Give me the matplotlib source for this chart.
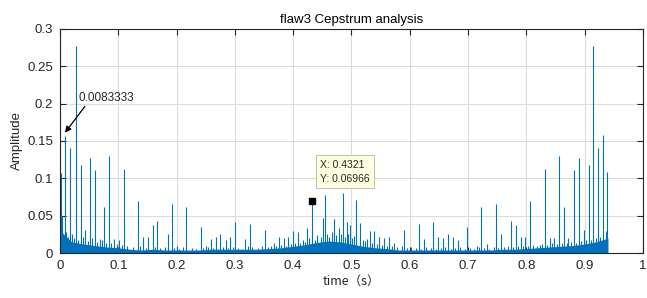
import matplotlib
matplotlib.use('Agg')
import matplotlib.pyplot as plt

plt.rcParams['font.family'] = ['Liberation Sans', 'DejaVu Sans']

# prominent cepstrum peaks (quefrency s, amplitude)
peak_t = [0.001, 0.003, 0.0083, 0.018, 0.027, 0.0355, 0.043, 0.0515, 0.060, 0.0686,
          0.0755, 0.0846, 0.0926, 0.101, 0.110, 0.134, 0.143, 0.151, 0.159, 0.167,
          0.185, 0.1927, 0.200, 0.217, 0.242, 0.250, 0.259, 0.267, 0.275, 0.284,
          0.292, 0.301, 0.318, 0.326, 0.351, 0.367, 0.375, 0.384, 0.392, 0.400,
          0.408, 0.424, 0.4321, 0.4505, 0.4546, 0.470, 0.478, 0.486, 0.4917, 0.497,
          0.508, 0.514, 0.531, 0.539, 0.548, 0.556, 0.565, 0.573, 0.5906, 0.6158,
          0.624, 0.640, 0.649, 0.657, 0.665, 0.674, 0.682, 0.699, 0.715, 0.723,
          0.733, 0.748, 0.757, 0.773, 0.782, 0.790, 0.798, 0.8067, 0.823, 0.832,
          0.840, 0.848, 0.8565, 0.865, 0.872, 0.8817, 0.890, 0.899, 0.9067, 0.9148,
          0.9234, 0.932, 0.939]
peak_v = [0.107, 0.050, 0.157, 0.141, 0.277, 0.118, 0.031, 0.127, 0.111, 0.019,
          0.062, 0.130, 0.019, 0.018, 0.112, 0.070, 0.022, 0.022, 0.037, 0.043,
          0.026, 0.066, 0.010, 0.062, 0.035, 0.010, 0.019, 0.022, 0.026, 0.018,
          0.022, 0.042, 0.019, 0.039, 0.031, 0.013, 0.021, 0.020, 0.021, 0.029,
          0.028, 0.034, 0.06966, 0.047, 0.078, 0.045, 0.034, 0.080, 0.042, 0.037,
          0.071, 0.040, 0.030, 0.029, 0.022, 0.020, 0.021, 0.013, 0.031, 0.039,
          0.019, 0.042, 0.022, 0.020, 0.025, 0.022, 0.018, 0.035, 0.009, 0.062,
          0.012, 0.066, 0.025, 0.043, 0.037, 0.021, 0.022, 0.070, 0.011, 0.112,
          0.020, 0.020, 0.130, 0.062, 0.020, 0.111, 0.127, 0.031, 0.118, 0.277,
          0.140, 0.158, 0.109]

# small "grass" between the peaks
grass_t = [0.004, 0.011, 0.014, 0.021, 0.024, 0.031, 0.039, 0.048, 0.055, 0.064,
           0.072, 0.079, 0.088, 0.097, 0.106, 0.115, 0.125, 0.138, 0.147, 0.163,
           0.172, 0.180, 0.196, 0.205, 0.211, 0.226, 0.233, 0.246, 0.254, 0.263,
           0.271, 0.279, 0.288, 0.296, 0.305, 0.313, 0.322, 0.330, 0.339, 0.346,
           0.356, 0.362, 0.371, 0.379, 0.388, 0.396, 0.404, 0.412, 0.417, 0.421,
           0.428, 0.437, 0.441, 0.447, 0.458, 0.462, 0.466, 0.474, 0.482, 0.489,
           0.494, 0.501, 0.505, 0.519, 0.524, 0.527, 0.535, 0.544, 0.552, 0.561,
           0.569, 0.578, 0.586, 0.595, 0.603, 0.611, 0.620, 0.628, 0.636, 0.645,
           0.653, 0.661, 0.670, 0.678, 0.687, 0.695, 0.703, 0.711, 0.719, 0.728,
           0.736, 0.744, 0.752, 0.761, 0.769, 0.777, 0.786, 0.794, 0.803, 0.811,
           0.819, 0.827, 0.836, 0.844, 0.852, 0.861, 0.869, 0.877, 0.886, 0.894,
           0.903, 0.911, 0.919, 0.927, 0.936]
grass_v = [0.035, 0.028, 0.022, 0.025, 0.020, 0.018, 0.022, 0.016, 0.020, 0.015,
           0.017, 0.014, 0.013, 0.012, 0.011, 0.010, 0.008, 0.009, 0.007, 0.008,
           0.007, 0.008, 0.007, 0.006, 0.008, 0.007, 0.006, 0.007, 0.008, 0.007,
           0.006, 0.008, 0.007, 0.008, 0.007, 0.006, 0.009, 0.008, 0.007, 0.009,
           0.008, 0.010, 0.009, 0.011, 0.010, 0.012, 0.014, 0.013, 0.017, 0.015,
           0.020, 0.018, 0.024, 0.022, 0.026, 0.021, 0.028, 0.024, 0.026, 0.022,
           0.025, 0.020, 0.023, 0.018, 0.016, 0.019, 0.014, 0.012, 0.011, 0.010,
           0.009, 0.008, 0.009, 0.007, 0.008, 0.007, 0.006, 0.008, 0.007, 0.006,
           0.007, 0.008, 0.006, 0.007, 0.008, 0.006, 0.007, 0.006, 0.008, 0.007,
           0.006, 0.008, 0.007, 0.008, 0.009, 0.008, 0.009, 0.010, 0.009, 0.011,
           0.010, 0.012, 0.011, 0.013, 0.012, 0.014, 0.013, 0.015, 0.014, 0.016,
           0.018, 0.017, 0.020, 0.022, 0.030]

# dense noise floor envelope
floor_t = [0.00, 0.02, 0.04, 0.06, 0.08, 0.10, 0.12, 0.14, 0.16, 0.18, 0.20, 0.22,
           0.24, 0.26, 0.28, 0.30, 0.32, 0.34, 0.36, 0.38, 0.40, 0.42, 0.44, 0.46,
           0.48, 0.50, 0.52, 0.54, 0.56, 0.58, 0.60, 0.62, 0.64, 0.66, 0.68, 0.70,
           0.72, 0.74, 0.76, 0.78, 0.80, 0.82, 0.84, 0.86, 0.88, 0.90, 0.92, 0.94]
floor_v = [0.030, 0.015, 0.012, 0.010, 0.008, 0.007, 0.005, 0.004, 0.005, 0.004,
           0.004, 0.004, 0.004, 0.005, 0.005, 0.005, 0.005, 0.005, 0.006, 0.007,
           0.009, 0.011, 0.014, 0.016, 0.015, 0.012, 0.009, 0.007, 0.006, 0.004,
           0.004, 0.004, 0.004, 0.004, 0.004, 0.004, 0.004, 0.004, 0.005, 0.005,
           0.006, 0.007, 0.008, 0.009, 0.010, 0.012, 0.015, 0.020]

tip_x, tip_y = 0.4321, 0.06966
blue = '#0072BD'
dark = '#262626'

fig = plt.figure(figsize=(6.47, 2.98), dpi=100)
ax = fig.add_axes([0.0927, 0.151, 0.901, 0.752])

ax.fill_between(floor_t, 0, floor_v, color=blue, lw=0, zorder=2)
ax.vlines(grass_t, 0, grass_v, color=blue, lw=0.8, zorder=2)
ax.vlines(peak_t, 0, peak_v, color=blue, lw=0.8, zorder=2)

ax.set_xlim(0, 1)
ax.set_ylim(0, 0.3)
ax.set_xticks([0, 0.1, 0.2, 0.3, 0.4, 0.5, 0.6, 0.7, 0.8, 0.9, 1])
ax.set_xticklabels(['0', '0.1', '0.2', '0.3', '0.4', '0.5', '0.6', '0.7', '0.8', '0.9', '1'])
ax.set_yticks([0, 0.05, 0.1, 0.15, 0.2, 0.25, 0.3])
ax.set_yticklabels(['0', '0.05', '0.1', '0.15', '0.2', '0.25', '0.3'])
ax.grid(True, color='#dcdcdc', lw=0.8, zorder=0)
ax.set_axisbelow(True)
ax.tick_params(direction='in', top=True, right=True, length=4, width=0.8,
               colors=dark, labelsize=9.5, pad=5)
for s in ax.spines.values():
    s.set_color(dark)
    s.set_linewidth(0.8)

ax.set_title('flaw3 Cepstrum analysis', fontsize=9.5, color='#000000', pad=4)
ax.set_ylabel('Amplitude', fontsize=9.5, color=dark, labelpad=3)
ax.set_xlabel('time（s）', fontsize=9, color=dark, labelpad=2,
              family=['Noto Sans CJK SC', 'DejaVu Sans'])

# arrow annotation
ax.annotate('0.0083333', xy=(0.0086, 0.161), xytext=(0.032, 0.208),
            fontsize=8.5, color=dark, va='center', ha='left',
            arrowprops=dict(arrowstyle='-|>', color='#000000', lw=0.9,
                            shrinkA=0, shrinkB=0, mutation_scale=9,
                            relpos=(0.15, 0.0)),
            zorder=5)

# data tip
ax.plot([tip_x], [tip_y], 's', color='#000000', ms=5, zorder=6)
ax.text(0.446, 0.109, 'X: 0.4321\nY: 0.06966', fontsize=7.5, color=dark,
        va='center', ha='left', linespacing=1.5, zorder=7,
        bbox=dict(boxstyle='square,pad=0.4', fc='#ffffe1', ec='#b4b4a0', lw=0.6))

fig.savefig('out.png', dpi=100)
